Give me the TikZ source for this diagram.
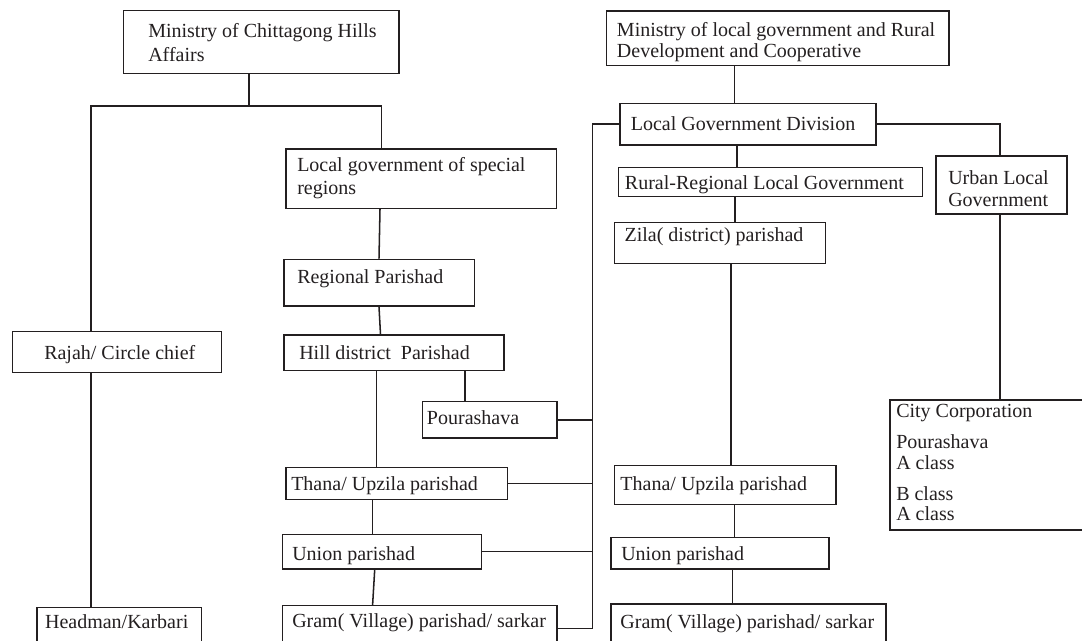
\documentclass[tikz,border=0pt]{standalone}
\usepackage{fontspec}
\setmainfont{Liberation Serif}
\usetikzlibrary{fit}
\definecolor{ink}{HTML}{231F20}
\begin{document}
\begin{tikzpicture}[x=0.75pt,y=-0.75pt,
  box/.style={draw=ink, line width=1.15pt, inner sep=0pt, rectangle},
  conn/.style={draw=ink, line width=1.15pt},
  lbl/.style={inner sep=0pt, anchor=base west, text=ink, font=\fontsize{15pt}{18pt}\selectfont}]
\useasboundingbox (0,0) rectangle (1082,641);
\clip (0,0) rectangle (1082,641);

% ---- boxes ----
\node[box, fit={(123.3,10.7)(398.8,73.3)}] (cht) {};
\node[box, fit={(286,149)(556.5,208.3)}] (special) {};
\node[box, fit={(284,259.3)(474.5,306)}] (regional) {};
\node[box, fit={(284,335)(504,370.7)}] (hill) {};
\node[box, fit={(12.7,331.3)(221.4,372.3)}] (rajah) {};
\node[box, fit={(422.7,401.7)(557,438)}] (pour) {};
\node[box, fit={(285.8,467.7)(507.6,499.3)}] (thanaL) {};
\node[box, fit={(282.4,534.3)(481.4,569)}] (unionL) {};
\node[box, fit={(282.4,605.7)(557,660)}] (gramL) {};
\node[box, fit={(36.8,607.7)(201.4,660)}] (headman) {};
\node[box, fit={(606.7,11)(949,65.7)}] (lgm) {};
\node[box, fit={(620,103.3)(876,145)}] (lgd) {};
\node[box, fit={(618.5,167.7)(922.6,196.7)}] (rural) {};
\node[box, fit={(936,156)(1067,214)}] (urban) {};
\node[box, fit={(614.7,222.7)(825.5,263.3)}] (zila) {};
\node[box, fit={(614.7,465.7)(836,504.3)}] (thanaR) {};
\node[box, fit={(611,537.7)(829,569)}] (unionR) {};
\node[box, fit={(611,604)(886,660)}] (gramR) {};
\node[box, fit={(890,400)(1110,530)}] (city) {};

% ---- texts ----
\node[lbl] (t1a) at (148,37.3) {Ministry of Chittagong Hills};
\node[lbl] (t1b) at (148,61.7) {Affairs};
\node[lbl] (t2a) at (297,171.7) {Local government of special};
\node[lbl] (t2b) at (297,194.5) {regions};
\node[lbl] (t3) at (297,284) {Regional Parishad};
\node[lbl] (t4) at (299,359.3) {Hill district~ Parishad};
\node[lbl] (t5) at (44,359.3) {Rajah/ Circle chief};
\node[lbl] (t6) at (426.7,425) {Pourashava};
\node[lbl] (t7) at (291,490) {Thana/ Upzila parishad};
\node[lbl] (t8) at (292,560) {Union parishad};
\node[lbl] (t9) at (292,627.7) {Gram( Village) parishad/ sarkar};
\node[lbl] (t10) at (44.8,628.3) {Headman/Karbari};
\node[lbl] (t11a) at (616.7,36.7) {Ministry of local government and Rural};
\node[lbl] (t11b) at (616.7,57.3) {Development and Cooperative};
\node[lbl] (t12) at (630.6,131) {Local Government Division};
\node[lbl] (t13) at (624.7,190) {Rural-Regional Local Government};
\node[lbl] (t14a) at (948,185) {Urban Local};
\node[lbl] (t14b) at (948,206.7) {Government};
\node[lbl] (t15) at (624.3,241.7) {Zila( district) parishad};
\node[lbl] (t16) at (620.2,490) {Thana/ Upzila parishad};
\node[lbl] (t17) at (621,560) {Union parishad};
\node[lbl] (t18) at (620.2,628.3) {Gram( Village) parishad/ sarkar};
\node[lbl] (t19a) at (896,417.3) {City Corporation};
\node[lbl] (t19b) at (896,448.3) {Pourashava};
\node[lbl] (t19c) at (896,469.3) {A class};
\node[lbl] (t19d) at (896,501) {B class};
\node[lbl] (t19e) at (896,521) {A class};

% ---- helper coordinates ----
\coordinate (cL) at (90.8,106);
\coordinate (cM) at (249,106);
\coordinate (cR) at (381.5,106);
\coordinate (xa) at (380,0);
\coordinate (xb) at (379,0);
\coordinate (xc) at (380.5,0);
\coordinate (xd) at (376.4,0);
\coordinate (xe) at (465,0);
\coordinate (xf) at (372.6,0);
\coordinate (xg) at (374.7,0);
\coordinate (sp) at (592.5,0);
\coordinate (gy) at (0,628.3);
\coordinate (ux) at (1000,0);
\coordinate (r1) at (734.6,0);
\coordinate (r2) at (737,0);
\coordinate (r3) at (735,0);
\coordinate (r4) at (731,0);
\coordinate (r5) at (734.6,0);
\coordinate (r6) at (732.5,0);

% ---- connectors: left tree ----
\draw[conn] (cht.south -| cM) -- (cM);
\draw[conn] (rajah.north -| cL) -- (cL) -- (cR) -- (special.north -| cR);
\draw[conn] (special.south -| xa) -- (regional.north -| xb);
\draw[conn] (regional.south -| xb) -- (hill.north -| xc);
\draw[conn] (hill.south -| xd) -- (thanaL.north -| xd);
\draw[conn] (hill.south -| xe) -- (pour.north -| xe);
\draw[conn] (rajah.south -| cL) -- (headman.north -| cL);
\draw[conn] (thanaL.south -| xf) -- (unionL.north -| xf);
\draw[conn] (unionL.south -| xg) -- (gramL.north -| xf);

% ---- connectors: right tree ----
\draw[conn] (lgm.south -| r1) -- (lgd.north -| r1);
\draw[conn] (lgd.west) -| (sp |- gy) -- (gramL.east |- gy);
\draw[conn] (pour.east) -- (pour.east -| sp);
\draw[conn] (thanaL.east) -- (thanaL.east -| sp);
\draw[conn] (unionL.east) -- (unionL.east -| sp);
\draw[conn] (lgd.east) -| (urban.north -| ux);
\draw[conn] (lgd.south -| r2) -- (rural.north -| r2);
\draw[conn] (rural.south -| r3) -- (zila.north -| r3);
\draw[conn] (zila.south -| r4) -- (thanaR.north -| r4);
\draw[conn] (thanaR.south -| r5) -- (unionR.north -| r5);
\draw[conn] (unionR.south -| r6) -- (gramR.north -| r6);
\draw[conn] (urban.south -| ux) -- (city.north -| ux);
\end{tikzpicture}
\end{document}
